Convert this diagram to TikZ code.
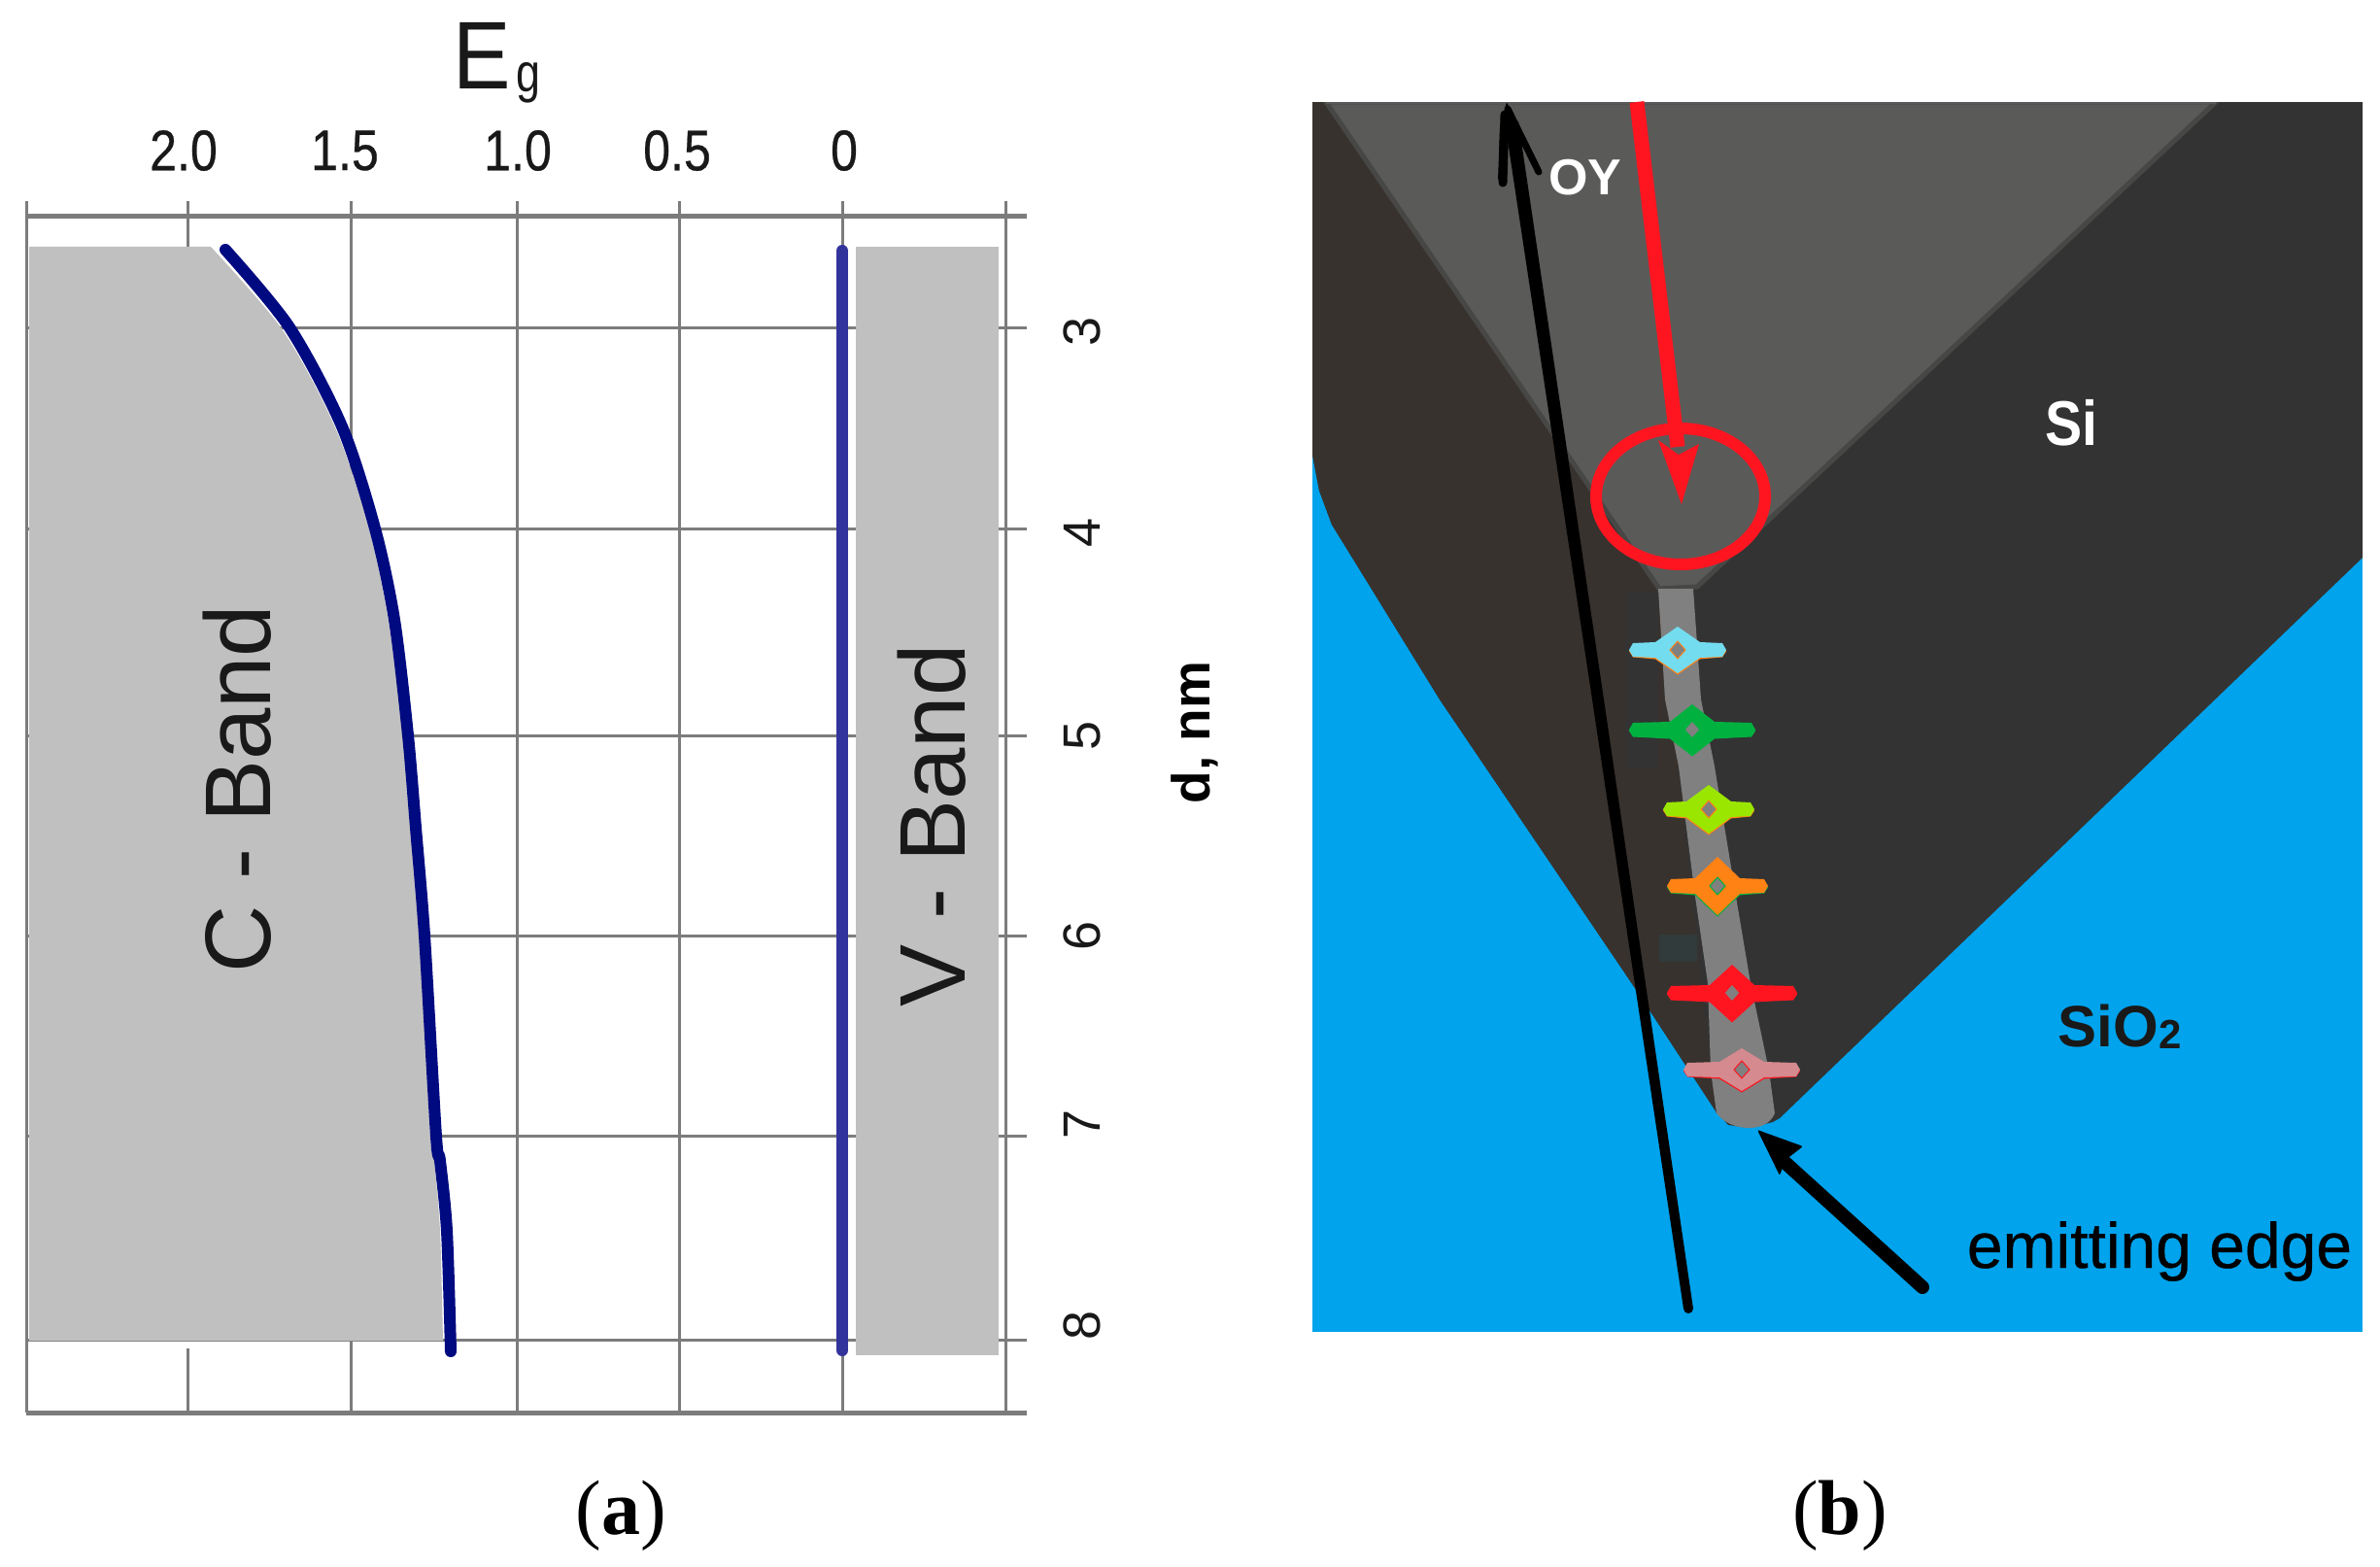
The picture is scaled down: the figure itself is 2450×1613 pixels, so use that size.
\documentclass[tikz,border=0pt]{standalone}
\usetikzlibrary{calc}
\usepackage{fontspec}
\setmainfont{Liberation Sans}
\newfontfamily\serifcap{Liberation Serif}
\newfontfamily\medfont[FakeBold=0.5]{Liberation Sans}
\definecolor{gridc}{HTML}{7C7C7C}
\definecolor{blockc}{HTML}{C0C0C0}
\definecolor{curvec}{HTML}{000A80}
\definecolor{zeroc}{HTML}{33339C}
\definecolor{sio}{HTML}{00A3EC}
\definecolor{darkr}{HTML}{333333}
\definecolor{darkl}{HTML}{38322E}
\definecolor{wedgec}{HTML}{5A5A58}
\definecolor{wedgee}{HTML}{474745}
\definecolor{stripec}{HTML}{808080}
\definecolor{redc}{HTML}{FF1520}
\definecolor{cyanm}{HTML}{74DCEF}
\definecolor{greenm}{HTML}{00B140}
\definecolor{limem}{HTML}{9BE600}
\definecolor{orangem}{HTML}{FF8214}
\definecolor{pinkm}{HTML}{D48A8E}
\tikzset{
  gridline/.style={draw=gridc,line width=3pt},
  axisline/.style={draw=gridc,line width=5pt},
  toplabel/.style={inner sep=0pt,font=\medfont\fontsize{59}{59}\selectfont,text=black!90},
  sidelabel/.style={inner sep=0pt,rotate=90,font=\fontsize{54}{54}\selectfont,text=black!90},
  bandlabel/.style={inner sep=0pt,rotate=90,font=\fontsize{96}{96}\selectfont,text=black!90},
  whitebold/.style={inner sep=0pt,text=white,font=\bfseries},
  caption/.style={inner sep=0pt,font=\serifcap\fontsize{80}{80}\selectfont},
}
\newcommand{\starmark}[6]{%
  \fill[#6] ({#1},{#2-#4+1.5}) -- ({#1+23},{#2-7+1.5}) -- ({#1+#3-4},{#2-6+1.5}) -- ({#1+#3},{#2+1.5}) -- ({#1+#3-4},{#2+6+1.5}) -- ({#1+23},{#2+8+1.5}) -- ({#1},{#2+#4+1.5}) -- ({#1-23},{#2+8+1.5}) -- ({#1-#3+4},{#2+6+1.5}) -- ({#1-#3},{#2+1.5}) -- ({#1-#3+4},{#2-6+1.5}) -- ({#1-23},{#2-7+1.5}) -- cycle;
  \fill[#5] ({#1},{#2-#4}) -- ({#1+23},{#2-8}) -- ({#1+#3-4},{#2-7}) -- ({#1+#3},{#2}) -- ({#1+#3-4},{#2+7}) -- ({#1+23},{#2+8}) -- ({#1},{#2+#4}) -- ({#1-23},{#2+8}) -- ({#1-#3+4},{#2+7}) -- ({#1-#3},{#2}) -- ({#1-#3+4},{#2-7}) -- ({#1-23},{#2-8}) -- cycle;
  \filldraw[fill=stripec,draw=#6,line width=1pt] ({#1},{#2-9}) -- ({#1+8},{#2}) -- ({#1},{#2+9}) -- ({#1-8},{#2}) -- cycle;
}
\begin{document}
\begin{tikzpicture}[x=1pt,y=-1pt]
\useasboundingbox (0,0) rectangle (2450,1613);
\fill[white] (0,0) rectangle (2450,1613);
% ---------- panel (a)
\foreach \gx in {27,361,532,699,867,1035} \draw[gridline] (\gx,207) -- (\gx,1454);
\draw[gridline] (193,207) -- (193,260);
\draw[gridline] (193,1388) -- (193,1454);
\foreach \gy in {338,544,757,963,1169,1379} \draw[gridline] (27,\gy) -- (1057,\gy);
\draw[axisline] (27,223) -- (1057,223);
\draw[axisline] (27,1454) -- (1057,1454);
\fill[blockc] (30,254) -- (217,254) -- plot[smooth] coordinates {(217,254) (291,340) (345,440) (380,544) (400,640) (415,757) (423,852) (432,963) (443,1170) (447,1195) (453,1267) (456,1380)} -- (30,1380) -- cycle;
\fill[blockc] (881,254) rectangle (1028,1395);
\draw[curvec,line width=12pt,line cap=round] plot[smooth] coordinates {(232,257) (298,337) (352,439) (386,544) (406,638) (420,757) (428,852) (437,963) (449,1170) (453,1195) (460,1267) (464,1391)};
\draw[zeroc,line width=12pt,line cap=round] (867,258) -- (867,1390);
\node[inner sep=0pt,anchor=base west,text=black!90] (eg) at (466,92) {\scalebox{.9}[1]{\fontsize{99}{99}\selectfont E}\hspace{6pt}\raisebox{-3pt}{\scalebox{.8}[1]{\fontsize{56}{56}\selectfont g}}};
\node[toplabel] (t20) at (189,155) {\scalebox{.85}[1]{2.0}};
\node[toplabel] (t15) at (355,155) {\scalebox{.85}[1]{1.5}};
\node[toplabel] (t10) at (533,155) {\scalebox{.85}[1]{1.0}};
\node[toplabel] (t05) at (697,155) {\scalebox{.85}[1]{0.5}};
\node[toplabel] (t00) at (869,155) {\scalebox{.85}[1]{0}};
\node[sidelabel] (s3) at (1114,341) {3};
\node[sidelabel] (s4) at (1114,548) {4};
\node[sidelabel] (s5) at (1114,757) {5};
\node[sidelabel] (s6) at (1114,963) {6};
\node[sidelabel] (s7) at (1114,1157) {7};
\node[sidelabel] (s8) at (1114,1364) {8};
\node[inner sep=0pt,rotate=90,font=\bfseries\fontsize{55}{55}\selectfont] (dnm) at (1230,754) {d, nm};
\node[bandlabel] (cband) at (244,812) {C - Band};
\node[bandlabel] (vband) at (959,850) {V - Band};
\node[caption] (capa) at (639,1560) {(\textbf{a})};
% ---------- panel (b)
\fill[sio] (1351,105) rectangle (2432,1371);
\fill[darkr] (1351,105) -- (2432,105) -- (2432,574) -- (1832,1151) -- (1825,1155) -- (1800,1161) -- (1779,1158) -- (1765,1142) -- (1683,1017) -- (1482,720) -- (1371,540) -- (1358,505) -- (1351,468) -- cycle;
\fill[darkl] (1351,105) -- (1365,105) -- (1708,606) -- (1761,1102) -- (1767,1146) -- (1765,1142) -- (1683,1017) -- (1482,720) -- (1371,540) -- (1358,505) -- (1351,468) -- cycle;
\fill[darkr] (1673,610) rectangle (1707,790);
\fill[darkr!96!cyan] (1708,962) rectangle (1747,990);
\filldraw[fill=wedgec,draw=wedgee,line width=5pt] (1365,105) -- (2281,105) -- (1747,604) -- (1708,606) -- cycle;
\fill[wedgec] (1365,100) rectangle (2281,107);
\fill[white] (1351,95) rectangle (2432,105);
\fill[stripec] (1707,606) -- (1743,606) -- (1751,720) -- (1765,789) -- (1787,923) -- (1802,1012) -- (1821,1102) -- (1827,1146) .. controls (1822,1158) and (1810,1161) .. (1800,1161) .. controls (1785,1161) and (1773,1154) .. (1767,1146) -- (1761,1102) -- (1758,1012) -- (1745,923) -- (1728,789) -- (1714,720) -- cycle;
\starmark{1727}{669}{50}{24}{cyanm}{orangem}
\starmark{1742}{751}{65}{26}{greenm}{greenm}
\starmark{1759}{833}{47}{25}{limem}{orangem}
\starmark{1768}{912}{52}{30}{orangem}{greenm}
\starmark{1783}{1022}{67}{29}{redc}{redc}
\starmark{1793}{1101}{60}{22}{pinkm}{redc}
% OY axis arrow
\coordinate (oytip) at (1551,105);
\coordinate (oytail) at (1738,1347);
\coordinate (oyl) at (1547,188);
\coordinate (oyr) at (1584,177);
\fill[black] ($(oytail)+(-5,0)$) -- (1639,720) -- (1549,125) -- (1563,125) -- (1651,720) -- ($(oytail)+(5,0)$) arc[start angle=0,end angle=180,radius=5] -- cycle;
\fill[black,rounded corners=2pt] (oytip) -- (oyr) -- (1566,140) -- (1553,130) -- (oyl) -- (1542,186) -- (1544,130) -- cycle;
\draw[black,line width=7pt,line cap=round] (1552,112) -- (oyr);
\draw[black,line width=9pt,line cap=round] (1549,118) -- (oyl);
% red arrow and ellipse
\coordinate (redtop) at (1685,105);
\coordinate (redtip) at (1731,519);
\draw[redc,line width=15pt] (redtop) -- (1727,460);
\fill[redc] (redtip) -- (1749,457) -- (1728,468) -- (1707,453) -- cycle;
\draw[redc,line width=12pt] (1730,511) ellipse [x radius=87,y radius=70];
% emitting edge arrow
\coordinate (eetail) at (1979,1325);
\coordinate (eetip) at (1809,1163);
\draw[black,line width=14pt,line cap=round] (eetail) -- (1838,1197);
\fill[black,rounded corners=2pt] (eetip) -- (1856,1180) -- (1838,1194) -- (1832,1210) -- cycle;
% labels
\node[whitebold,font=\bfseries\fontsize{52}{52}\selectfont] (oy) at (1632,183) {OY};
\node[whitebold,font=\bfseries\fontsize{65}{65}\selectfont] (si) at (2132,435) {\scalebox{.88}[1]{Si}};
\node[inner sep=0pt,font=\bfseries\fontsize{60}{60}\selectfont,text=black!90] (sio2) at (2182,1057) {SiO\raisebox{-2pt}{\fontsize{42}{42}\selectfont 2}};
\node[inner sep=0pt,font=\medfont\fontsize{66}{66}\selectfont] (emit) at (2223,1288) {emitting edge};
\node[caption] (capb) at (1894,1560) {(\textbf{b})};
\end{tikzpicture}
\end{document}
